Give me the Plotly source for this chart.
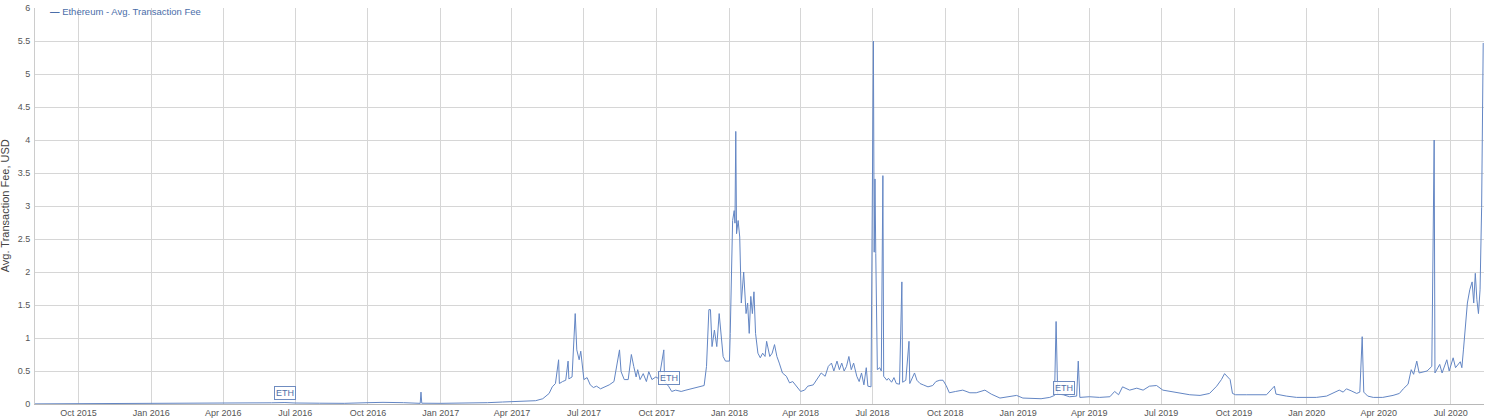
import plotly.graph_objects as go

# ---- data (date, avg fee in USD) ----
dates = [
    "2015-08-07", "2015-09-01", "2015-10-01", "2015-11-01", "2015-12-01",
    "2016-01-01", "2016-02-01", "2016-03-01", "2016-04-01", "2016-05-01",
    "2016-06-01", "2016-06-18", "2016-07-01", "2016-08-01", "2016-09-01",
    "2016-10-01", "2016-10-20", "2016-11-15", "2016-12-01", "2016-12-06",
    "2016-12-07", "2016-12-08", "2017-01-01", "2017-02-01", "2017-03-01",
    "2017-03-20", "2017-04-01", "2017-04-20", "2017-05-01", "2017-05-10",
    "2017-05-14", "2017-05-18", "2017-05-22", "2017-05-26", "2017-05-30",
    "2017-05-31", "2017-06-04", "2017-06-08", "2017-06-11", "2017-06-12",
    "2017-06-16", "2017-06-20", "2017-06-22", "2017-06-25", "2017-06-27",
    "2017-06-29", "2017-07-01", "2017-07-05", "2017-07-09", "2017-07-13",
    "2017-07-17", "2017-07-22", "2017-07-27", "2017-08-02", "2017-08-08",
    "2017-08-15", "2017-08-17", "2017-08-21", "2017-08-26", "2017-08-30",
    "2017-09-02", "2017-09-05", "2017-09-07", "2017-09-10", "2017-09-14",
    "2017-09-18", "2017-09-21", "2017-09-25", "2017-09-30", "2017-10-04",
    "2017-10-10", "2017-10-11", "2017-10-16", "2017-10-20", "2017-10-25",
    "2017-11-01", "2017-11-07", "2017-11-14", "2017-11-20", "2017-11-25",
    "2017-11-30", "2017-12-03", "2017-12-06", "2017-12-08", "2017-12-10",
    "2017-12-13", "2017-12-16", "2017-12-19", "2017-12-22", "2017-12-24",
    "2017-12-27", "2018-01-01", "2018-01-02", "2018-01-05", "2018-01-07",
    "2018-01-08", "2018-01-09", "2018-01-10", "2018-01-12", "2018-01-14",
    "2018-01-16", "2018-01-19", "2018-01-22", "2018-01-24", "2018-01-26",
    "2018-01-28", "2018-01-30", "2018-02-01", "2018-02-03", "2018-02-06",
    "2018-02-09", "2018-02-12", "2018-02-15", "2018-02-17", "2018-02-21",
    "2018-02-24", "2018-02-27", "2018-03-02", "2018-03-05", "2018-03-09",
    "2018-03-14", "2018-03-18", "2018-03-22", "2018-03-27", "2018-04-01",
    "2018-04-06", "2018-04-10", "2018-04-17", "2018-04-23", "2018-04-27",
    "2018-05-02", "2018-05-06", "2018-05-10", "2018-05-13", "2018-05-17",
    "2018-05-20", "2018-05-23", "2018-05-26", "2018-05-29", "2018-06-01",
    "2018-06-04", "2018-06-07", "2018-06-11", "2018-06-14", "2018-06-17",
    "2018-06-20", "2018-06-23", "2018-06-25", "2018-06-29", "2018-07-02",
    "2018-07-03", "2018-07-04", "2018-07-05", "2018-07-07", "2018-07-10",
    "2018-07-12", "2018-07-14", "2018-07-15", "2018-07-19", "2018-07-21",
    "2018-07-25", "2018-07-28", "2018-07-31", "2018-08-04", "2018-08-07",
    "2018-08-08", "2018-08-12", "2018-08-16", "2018-08-17", "2018-08-20",
    "2018-08-23", "2018-08-26", "2018-08-30", "2018-09-03", "2018-09-09",
    "2018-09-15", "2018-09-19", "2018-09-24", "2018-09-28", "2018-10-02",
    "2018-10-06", "2018-10-14", "2018-10-23", "2018-11-01", "2018-11-09",
    "2018-11-20", "2018-11-28", "2018-12-09", "2018-12-19", "2018-12-30",
    "2019-01-07", "2019-01-20", "2019-01-30", "2019-02-10", "2019-02-16",
    "2019-02-18", "2019-02-20", "2019-02-27", "2019-03-07", "2019-03-16",
    "2019-03-18", "2019-03-20", "2019-04-01", "2019-04-14", "2019-04-27",
    "2019-05-03", "2019-05-08", "2019-05-13", "2019-05-22", "2019-05-31",
    "2019-06-08", "2019-06-16", "2019-06-25", "2019-07-03", "2019-07-12",
    "2019-07-22", "2019-08-06", "2019-08-19", "2019-08-31", "2019-09-09",
    "2019-09-15", "2019-09-19", "2019-09-22", "2019-09-26", "2019-09-29",
    "2019-10-03", "2019-10-17", "2019-10-29", "2019-11-11", "2019-11-21",
    "2019-11-23", "2019-12-06", "2019-12-19", "2019-12-31", "2020-01-13",
    "2020-01-26", "2020-02-03", "2020-02-11", "2020-02-16", "2020-02-20",
    "2020-02-26", "2020-03-04", "2020-03-08", "2020-03-11", "2020-03-13",
    "2020-03-18", "2020-03-25", "2020-04-06", "2020-04-19", "2020-04-27",
    "2020-05-02", "2020-05-08", "2020-05-12", "2020-05-15", "2020-05-19",
    "2020-05-22", "2020-06-01", "2020-06-07", "2020-06-10", "2020-06-11",
    "2020-06-17", "2020-06-20", "2020-06-26", "2020-06-29", "2020-07-04",
    "2020-07-07", "2020-07-13", "2020-07-15", "2020-07-17", "2020-07-19",
    "2020-07-22", "2020-07-25", "2020-07-28", "2020-07-30", "2020-08-01",
    "2020-08-03", "2020-08-05", "2020-08-07", "2020-08-09", "2020-08-11",
]

fees = [
    0.002, 0.003, 0.002, 0.001, 0.001,
    0.002, 0.004, 0.008, 0.012, 0.015,
    0.018, 0.022, 0.015, 0.012, 0.010,
    0.020, 0.025, 0.020, 0.012, 0.010,
    0.18, 0.012, 0.010, 0.012, 0.020,
    0.030, 0.035, 0.040, 0.050, 0.080,
    0.12, 0.16, 0.26, 0.31, 0.67,
    0.31, 0.34, 0.36, 0.65, 0.38,
    0.41, 1.37, 0.82, 0.67, 0.80,
    0.57, 0.37, 0.40, 0.29, 0.25,
    0.27, 0.23, 0.26, 0.29, 0.34,
    0.82, 0.49, 0.37, 0.37, 0.75,
    0.57, 0.41, 0.52, 0.37, 0.46,
    0.34, 0.49, 0.37, 0.41, 0.38,
    0.82, 0.34, 0.27, 0.19, 0.21,
    0.19, 0.21, 0.23, 0.24, 0.26,
    0.28, 0.57, 1.43, 1.43, 0.87,
    1.12, 0.87, 1.37, 0.97, 0.72,
    0.65, 0.65, 1.07, 2.78, 2.93,
    2.74, 4.13, 2.58, 2.78, 2.53,
    1.53, 2.00, 1.37, 1.53, 1.07,
    1.63, 1.37, 1.70, 1.07, 0.77,
    0.70, 0.77, 0.72, 0.95, 0.72,
    0.77, 0.90, 0.72, 0.62, 0.47,
    0.42, 0.32, 0.34, 0.27, 0.19,
    0.21, 0.27, 0.29, 0.40, 0.47,
    0.42, 0.57, 0.62, 0.50, 0.65,
    0.52, 0.62, 0.50, 0.57, 0.72,
    0.52, 0.62, 0.42, 0.34, 0.47,
    0.29, 0.55, 0.27, 0.26, 5.50,
    2.30, 3.41, 2.28, 0.52, 0.55,
    0.50, 3.46, 0.42, 0.36, 0.39,
    0.33, 0.40, 0.31, 0.30, 1.85,
    0.33, 0.36, 0.95, 0.31, 0.39,
    0.47, 0.36, 0.31, 0.29, 0.26,
    0.28, 0.34, 0.36, 0.36, 0.28,
    0.17, 0.19, 0.21, 0.17, 0.17,
    0.21, 0.15, 0.09, 0.11, 0.13,
    0.09, 0.09, 0.08, 0.10, 0.13,
    1.25, 0.15, 0.14, 0.11, 0.12,
    0.65, 0.10, 0.11, 0.10, 0.11,
    0.19, 0.14, 0.26, 0.21, 0.24,
    0.21, 0.27, 0.28, 0.21, 0.19,
    0.17, 0.14, 0.13, 0.16, 0.27,
    0.37, 0.46, 0.42, 0.37, 0.16,
    0.14, 0.14, 0.14, 0.14, 0.27,
    0.15, 0.12, 0.10, 0.10, 0.10,
    0.12, 0.16, 0.21, 0.18, 0.23,
    0.20, 0.16, 0.18, 1.02, 0.18,
    0.12, 0.10, 0.10, 0.13, 0.16,
    0.23, 0.30, 0.52, 0.45, 0.65,
    0.47, 0.50, 0.57, 4.00, 0.47,
    0.60, 0.47, 0.67, 0.50, 0.70,
    0.55, 0.64, 0.55, 0.82, 1.07,
    1.53, 1.73, 1.85, 1.53, 1.98,
    1.58, 1.37, 1.73, 2.98, 5.47,
]

# event markers ("ETH" flags)
event_dates = ["2016-06-18", "2017-10-17", "2019-02-28"]
event_levels = [0.17, 0.40, 0.25]
event_labels = ["ETH", "ETH", "ETH"]

series_name = "Ethereum - Avg. Transaction Fee"
y_title = "Avg. Transaction Fee, USD"

LINE = "#6386c4"
GRID = "#d6d6d6"
TICK = "#555555"
FONT = "Liberation Sans, Arial, sans-serif"

fig = go.Figure()
fig.add_trace(go.Scatter(
    x=dates, y=fees, mode="lines", name=series_name,
    line=dict(color=LINE, width=1), showlegend=False,
))

for d, lv, lab in zip(event_dates, event_levels, event_labels):
    fig.add_annotation(
        x=d, y=lv, xref="x", yref="y", text=lab, showarrow=False,
        font=dict(family=FONT, size=9, color="#4f6fa8"),
        bordercolor="#6f8cc0", borderwidth=1, borderpad=1,
        bgcolor="rgba(255,255,255,0.85)",
    )

# legend-like label at top-left
fig.add_annotation(
    x=0.009, y=0.992, xref="paper", yref="paper", yanchor="middle",
    xanchor="left", showarrow=False,
    text="<b>—</b> " + series_name,
    font=dict(family=FONT, size=9.5, color="#4a6ea9"),
)

# y-axis title
fig.add_annotation(
    x=-0.0205, y=0.5, xref="paper", yref="paper", showarrow=False,
    text=y_title, textangle=-90, xanchor="center", yanchor="middle",
    font=dict(family=FONT, size=11, color="#444444"),
)

fig.update_layout(
    width=1500, height=418,
    margin=dict(l=35, r=16, t=8, b=14),
    paper_bgcolor="white", plot_bgcolor="white",
    font=dict(family=FONT, size=9, color=TICK),
    showlegend=False,
)

fig.update_xaxes(
    type="date", range=["2015-08-07", "2020-08-12"],
    tick0="2015-10-01", dtick="M3", tickformat="%b %Y",
    showgrid=True, gridcolor=GRID, gridwidth=1,
    showline=True, linecolor="#b8b8b8", linewidth=1,
    ticks="", tickfont=dict(size=9, color=TICK), automargin=False,
    zeroline=False,
)
fig.update_yaxes(
    range=[0, 6], dtick=0.5, tick0=0,
    showgrid=True, gridcolor=GRID, gridwidth=1,
    showline=True, linecolor="#cccccc", linewidth=1,
    ticks="", tickfont=dict(size=9, color=TICK), automargin=False,
    zeroline=False, ticklabelstandoff=2,
)

fig.write_html(
    "out.html",
    config={"displayModeBar": False},
    post_script="document.body.style.margin='0';document.body.style.padding='0';",
)
